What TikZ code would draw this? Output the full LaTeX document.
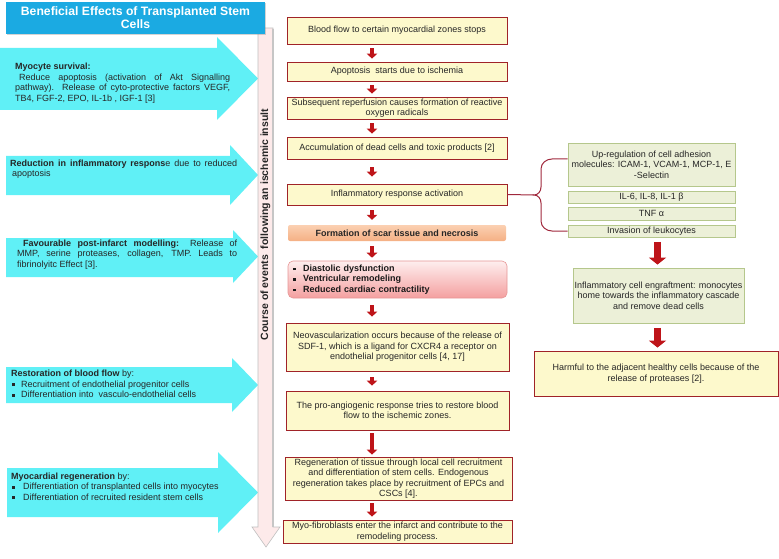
\documentclass[tikz,border=0pt]{standalone}
\usepackage{fontspec}
\setmainfont{Liberation Sans}
\usetikzlibrary{arrows.meta,shadows,positioning}

\definecolor{titleblue}{RGB}{27,170,226}
\definecolor{cyanarr}{RGB}{96,240,246}
\definecolor{vpink}{RGB}{253,234,234}
\definecolor{evfill}{RGB}{253,249,204}
\definecolor{evline}{RGB}{160,35,40}
\definecolor{grfill}{RGB}{236,240,216}
\definecolor{grline}{RGB}{181,199,140}
\definecolor{arrred}{RGB}{190,20,25}
\definecolor{scartop}{RGB}{251,208,178}
\definecolor{scarbot}{RGB}{245,176,132}
\definecolor{dystop}{RGB}{254,238,238}
\definecolor{dysbot}{RGB}{244,160,160}
\definecolor{dysline}{RGB}{230,150,150}
\definecolor{bracered}{RGB}{160,40,60}

\newcommand{\sqb}{\rule[0.25ex]{0.55ex}{0.55ex}}

\tikzset{
  titlebox/.style={fill=titleblue, text=white, align=center, inner sep=1pt,
    font=\bfseries\fontsize{12.2}{13}\selectfont,
    drop shadow={shadow xshift=1.2pt, shadow yshift=-1.2pt, opacity=0.35}},
  evbox/.style={draw=evline, fill=evfill, line width=0.8pt, align=center, inner sep=1pt,
    text=black!85, drop shadow={shadow xshift=1pt, shadow yshift=-1pt, opacity=0.25}},
  grbox/.style={draw=grline, fill=grfill, line width=0.8pt, align=center, inner sep=1pt, text=black!85},
  ltext/.style={inner sep=0pt, align=justify, anchor=west, text=black!85},
  redarr/.style={draw=arrred, line width=4pt, -{Triangle[width=10.5pt,length=5pt]},
    shorten <=4pt, shorten >=3pt},
  bigarr/.style={draw=arrred, line width=7pt, -{Triangle[width=17pt,length=7pt]},
    shorten <=4.5pt, shorten >=3pt},
  bracel/.style={draw=bracered, line width=1pt},
}

\begin{document}
\begin{tikzpicture}[x=1pt, y=-1pt, font=\fontsize{9}{10.5}\selectfont]
\useasboundingbox (0,0) rectangle (779,559);

% cyan arrows on the left
\foreach \xa/\ya/\yb/\xh/\yc/\yd in {0/48/110/217/37/120, 6/156/195/230/145/205,
    6/238/277/233/230/283, 6/367/403/232/358/412, 7/468/517/218/452/533}
  \fill[cyanarr] (\xa,\ya) -- (\xh,\ya) -- (\xh,\yc) -- (258,{(\yc+\yd)/2})
    -- (\xh,\yd) -- (\xh,\yb) -- (\xa,\yb) -- cycle;

% time arrow
\filldraw[fill=vpink, draw=gray!50, line width=0.6pt] (258,28) -- (273,28) -- (273,527)
  -- (280,527) -- (266,547) -- (252,527) -- (258,527) -- cycle;
\draw[gray!45, line width=2.5pt] (273,29) -- (273,527);
\node[font=\bfseries\fontsize{10.5}{12}\selectfont, rotate=90, text=black!85] (vt) at (265.5,224.5)
  {Course of events\ \ following an ischemic insult};

% title
\node[titlebox, minimum width=259pt, minimum height=32pt] (title) at (135.5,18)
  {Beneficial Effects of Transplanted Stem\\Cells};

% texts in the arrows
\node[ltext, text width=215pt] (s1) at (15,83)
  {{\bfseries Myocyte survival:}\\
   \hspace*{4pt}Reduce apoptosis (activation of Akt Signalling\linebreak
   pathway). Release of cyto-protective factors VEGF,\linebreak
   TB4, FGF-2, EPO, IL-1b , IGF-1 [3]};
\node[ltext, text width=227pt] (s2) at (10,169)
  {{\bfseries Reduction in inflammatory respons}e due to reduced\linebreak
   \hspace*{2pt}apoptosis};
\node[ltext, text width=220pt] (s3) at (17,254.5)
  {\hspace*{6pt}{\bfseries Favourable post-infarct modelling:} Release of\linebreak
   MMP, serine proteases, collagen, TMP. Leads to\linebreak
   fibrinolyitc Effect [3].};
\node[ltext, align=left] (s4) at (11,384)
  {{\bfseries Restoration of blood flow} by:\\
   \hspace*{1pt}\makebox[9pt][l]{\sqb}Recruitment of endothelial progenitor cells\\
   \hspace*{1pt}\makebox[9pt][l]{\sqb}Differentiation into\ \ vasculo-endothelial cells};
\node[ltext, align=left] (s5) at (11,486.5)
  {{\bfseries Myocardial regeneration} by:\\
   \hspace*{1pt}\makebox[11pt][l]{\sqb}Differentiation of transplanted cells into myocytes\\
   \hspace*{1pt}\makebox[11pt][l]{\sqb}Differentiation of recruited resident stem cells};

% course of events
\node[evbox, minimum width=220pt, minimum height=27pt] (b1) at (397,30.5)
  {Blood flow to certain myocardial zones stops};
\node[evbox, minimum width=220pt, minimum height=19pt] (b2) at (397,71.5)
  {Apoptosis\ \ starts due to ischemia};
\node[evbox, minimum width=220pt, minimum height=22pt] (b3) at (397,108)
  {Subsequent reperfusion causes formation of reactive\\oxygen radicals};
\node[evbox, minimum width=220pt, minimum height=22pt] (b4) at (397,148)
  {Accumulation of dead cells and toxic products [2]};
\node[evbox, minimum width=220pt, minimum height=21pt] (b5) at (397,194.5)
  {Inflammatory response activation};
\node[rounded corners=2pt, top color=scartop, bottom color=scarbot, minimum width=218pt,
  minimum height=16pt, inner sep=1pt, font=\bfseries\fontsize{9}{10.5}\selectfont, text=black!85]
  (b6) at (397,233) {Formation of scar tissue and necrosis};
\node[draw=dysline, rounded corners=5pt, top color=dystop, bottom color=dysbot, line width=0.6pt,
  minimum height=37pt, text width=209pt, inner xsep=5pt, inner ysep=1pt, align=left,
  font=\bfseries\fontsize{9}{10.5}\selectfont, text=black!90] (b7) at (397.5,279.5)
  {\makebox[10pt][l]{\sqb}Diastolic dysfunction\\
   \makebox[10pt][l]{\sqb}Ventricular remodeling\\
   \makebox[10pt][l]{\sqb}Reduced cardiac contractility};
\node[evbox, minimum width=223pt, minimum height=48pt] (b8) at (397.5,347)
  {Neovascularization occurs because of the release of\\SDF-1, which is a ligand for CXCR4 a receptor on\\endothelial progenitor cells [4, 17]};
\node[evbox, minimum width=223pt, minimum height=39pt] (b9) at (397.5,410.5)
  {The pro-angiogenic response tries to restore blood\\flow to the ischemic zones.};
\node[evbox, minimum width=227pt, minimum height=43pt] (b10) at (398.5,478.5)
  {Regeneration of tissue through local cell recruitment\\and differentiation of stem cells. Endogenous\\regeneration takes place by recruitment of EPCs and\\CSCs [4].};
\node[evbox, minimum width=229pt, minimum height=23pt] (b11) at (397.5,531.5)
  {Myo-fibroblasts enter the infarct and contribute to the\\remodeling process.};

% arrows between the events
\coordinate (ax) at (372,0);
\draw[redarr] (b1.south -| ax) -- (b2.north -| ax);
\draw[redarr] (b2.south -| ax) -- (b3.north -| ax);
\draw[redarr] (b3.south -| ax) -- (b4.north -| ax);
\draw[redarr, shorten <=8pt, shorten >=7pt] (b4.south -| ax) -- (b5.north -| ax);
\draw[redarr, shorten <=5pt, shorten >=5pt] (b5.south -| ax) -- (b6.north -| ax);
\draw[redarr, shorten <=5pt] (b6.south -| ax) -- (b7.north -| ax);
\draw[redarr, shorten <=7pt, shorten >=6pt] (b7.south -| ax) -- (b8.north -| ax);
\draw[redarr, shorten <=6pt, shorten >=5pt] (b8.south -| ax) -- (b9.north -| ax);
\draw[redarr, shorten <=3pt, shorten >=2pt] (b9.south -| ax) -- (b10.north -| ax);
\draw[redarr, shorten <=3pt] (b10.south -| ax) -- (b11.north -| ax);

% inflammatory branch
\node[grbox, minimum width=167pt, minimum height=43pt] (r1) at (651.5,164.5)
  {Up-regulation of cell adhesion\\molecules: ICAM-1, VCAM-1, MCP-1, E\\-Selectin};
\node[grbox, minimum width=167pt, minimum height=12pt] (r2) at (651.5,197) {IL-6, IL-8, IL-1 β};
\node[grbox, minimum width=167pt, minimum height=13pt] (r3) at (651.5,213.5) {TNF α};
\node[grbox, minimum width=167pt, minimum height=12pt] (r4) at (651.5,231) {Invasion of leukocytes};
\node[grbox, minimum width=171pt, minimum height=55pt] (r5) at (658.5,295.5)
  {Inflammatory cell engraftment: monocytes\\home towards the inflammatory cascade\\and remove dead cells};
\node[evbox, minimum width=244pt, minimum height=45pt] (r6) at (656,373.5)
  {Harmful to the adjacent healthy cells because of the\\release of proteases [2].};

\coordinate (bx) at (657.5,0);
\draw[bigarr] (r4.south -| bx) -- (r5.north -| bx);
\draw[bigarr] (r5.south -| bx) -- (r6.north -| bx);

% brace
\coordinate (bt) at (534,195);
\draw[bracel] (b5.east) -- (bt);
\draw[bracel] ([yshift=5.5pt]r1.west) -- (552,159) to[out=180,in=90] (541,169) -- (541,187)
  to[out=270,in=0] (bt) to[out=0,in=90] (541,203) -- (541,221)
  to[out=270,in=180] (552,231) -- (r4.west);
\end{tikzpicture}
\end{document}
